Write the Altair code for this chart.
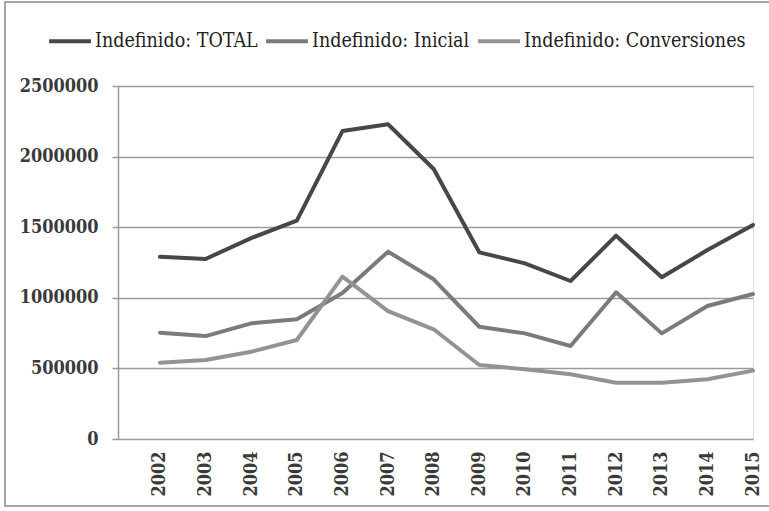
import altair as alt
import pandas as pd

years = list(range(2002, 2016))
series_names = ["Indefinido: TOTAL", "Indefinido: Inicial", "Indefinido: Conversiones"]
total = [1290000, 1275000, 1423000, 1546000, 2181000, 2229000, 1912000,
         1322000, 1244000, 1119000, 1440000, 1145000, 1338000, 1516000]
inicial = [753000, 729000, 819000, 848000, 1034000, 1327000, 1131000,
           795000, 748000, 659000, 1039000, 748000, 942000, 1027000]
conversiones = [540000, 559000, 618000, 701000, 1150000, 905000, 777000,
                524000, 494000, 458000, 399000, 399000, 423000, 484000]
y_ticks = [0, 500000, 1000000, 1500000, 2000000, 2500000]
line_colors = ["#474747", "#7b7b7b", "#939393"]

rows = []
for name, vals in zip(series_names, [total, inicial, conversiones]):
    for yr, v in zip(years, vals):
        rows.append({"year": yr, "value": v, "serie": name})
df = pd.DataFrame(rows)

FONT = "DejaVu Serif Condensed"

lines = alt.Chart(df).mark_line(strokeWidth=4, strokeCap="round", strokeJoin="round").encode(
    x=alt.X("year:Q",
            scale=alt.Scale(domain=[2001.08, 2015], nice=False, zero=False),
            axis=alt.Axis(values=years, format="d", labelAngle=270, title=None,
                          grid=False, ticks=False, domain=False,
                          labelPadding=12, labelFontSize=18, labelFont=FONT,
                          labelFontWeight="bold",
                          labelColor="#3a3a3a", labelAlign="right",
                          labelBaseline="middle")),
    y=alt.Y("value:Q",
            scale=alt.Scale(domain=[0, 2500000], nice=False),
            axis=alt.Axis(values=y_ticks, format="d", title=None,
                          grid=True, gridColor="#9a9a9a", gridWidth=1.5,
                          domain=True, domainColor="#9a9a9a", domainWidth=1.5,
                          ticks=True, tickSize=6, tickColor="#9a9a9a", tickWidth=1.5,
                          labelPadding=14, labelFontSize=18, labelFont=FONT,
                          labelFontWeight="bold",
                          labelColor="#3a3a3a")),
    color=alt.Color("serie:N",
                    scale=alt.Scale(domain=series_names, range=line_colors),
                    sort=series_names,
                    legend=alt.Legend(orient="none", legendX=-71, legendY=-68,
                                      direction="horizontal", title=None,
                                      symbolType="stroke", symbolSize=1750,
                                      symbolStrokeWidth=4, labelFont=FONT,
                                      labelFontSize=19.5, labelColor="#222222",
                                      labelOffset=2, columnPadding=0,
                                      labelLimit=400)),
    order=alt.Order("year:Q"),
)

# outer frame around the whole figure
frame = alt.Chart(pd.DataFrame({"k": [0]})).mark_rect(
    fill=None, stroke="#8a8a8a", strokeWidth=1.5
).encode(x=alt.value(-113), x2=alt.value(700), y=alt.value(-84), y2=alt.value(420))

chart = alt.layer(frame, lines).properties(
    width=635, height=353,
    autosize=alt.AutoSizeParams(type="none"),
    padding={"left": 118, "top": 86, "right": 16, "bottom": 72},
).configure_view(stroke=None).configure(background="white")

chart.save("out.html", embed_options={"renderer": "svg", "actions": False})
